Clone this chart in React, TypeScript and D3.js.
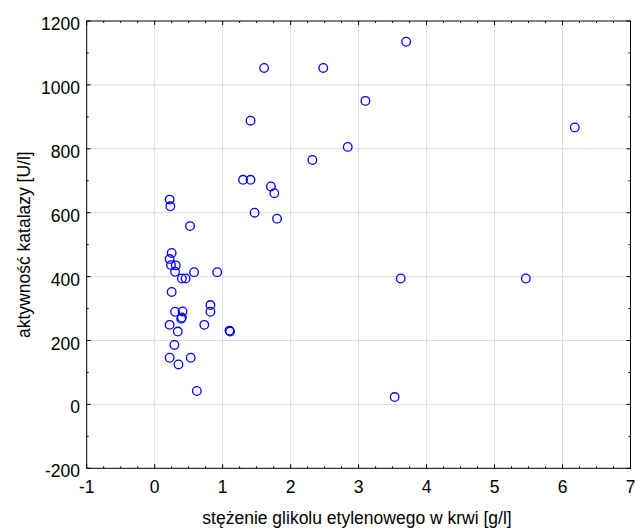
import React from "react";
import * as d3 from "d3";

const xValues = [0.22, 0.23, 0.52, 0.25, 0.22, 0.24, 0.31, 0.30, 0.58, 0.92, 0.40, 0.455, 0.25, 0.82, 0.82, 0.30, 0.41, 0.40, 0.39, 0.22, 0.73, 0.34, 1.10, 1.11, 0.29, 0.22, 0.53, 0.35, 0.62,
  3.70, 1.61, 2.48, 3.10, 1.41, 2.84, 2.32, 1.30, 1.41, 1.71, 1.76, 1.47, 1.80, 6.18, 5.46, 3.62, 3.53];
const yValues = [641, 620, 558, 474, 455, 436, 435, 415, 414, 414, 394, 394, 352, 311, 290, 290, 291, 272, 268, 249, 249, 228, 231, 228, 186, 146, 146, 125, 42,
  1135, 1053, 1053, 950, 888, 806, 765, 703, 703, 682, 661, 600, 581, 867, 394, 394, 23];
const xTicks = [-1, 0, 1, 2, 3, 4, 5, 6, 7];
const yTicks = [-200, 0, 200, 400, 600, 800, 1000, 1200];
const xTitle = "stężenie glikolu etylenowego w krwi [g/l]";
const yTitle = "aktywność katalazy [U/l]";

export default function App() {
  const left = 86.7, right = 630.5, top = 21, bottom = 468.3;
  const x = d3.scaleLinear().domain([-1, 7]).range([left, right]);
  const y = d3.scaleLinear().domain([-200, 1200]).range([bottom, top]);
  const xMinor = d3.range(-1, 7.001, 0.25);
  const yMinor = d3.range(-200, 1200.1, 100);
  const font = "'Liberation Sans', Arial, sans-serif";
  const fs = 17.5;
  return (
    <svg width={635} height={530} style={{ position: "absolute", left: 0, top: 0 }} fontFamily={font}>
      <rect x={0} y={0} width={635} height={530} fill="#fff" />
      {xTicks.slice(1, -1).map((t) => (
        <line key={"gx" + t} x1={x(t)} x2={x(t)} y1={top} y2={bottom} stroke="#dcdcdc" strokeWidth={1} />
      ))}
      {yTicks.slice(1, -1).map((t) => (
        <line key={"gy" + t} x1={left} x2={right} y1={y(t)} y2={y(t)} stroke="#dcdcdc" strokeWidth={1} />
      ))}
      <rect x={left} y={top} width={right - left} height={bottom - top} fill="none" stroke="#000" strokeWidth={1} />
      {xMinor.map((t, i) => {
        const major = Math.abs(t - Math.round(t)) < 1e-6;
        const len = major ? 4 : 2;
        return (
          <g key={"tx" + i}>
            <line x1={x(t)} x2={x(t)} y1={bottom} y2={bottom - len} stroke="#000" />
            <line x1={x(t)} x2={x(t)} y1={top} y2={top + len} stroke="#000" />
          </g>
        );
      })}
      {yMinor.map((t, i) => {
        const major = Math.abs(t % 200) < 1e-6;
        const len = major ? 4 : 2;
        return (
          <g key={"ty" + i}>
            <line x1={left} x2={left + len} y1={y(t)} y2={y(t)} stroke="#000" />
            <line x1={right} x2={right - len} y1={y(t)} y2={y(t)} stroke="#000" />
          </g>
        );
      })}
      {xTicks.map((t) => (
        <text key={"lx" + t} x={x(t)} y={492.5} textAnchor="middle" fontSize={fs} fill="#000">{t}</text>
      ))}
      {yTicks.map((t) => (
        <text key={"ly" + t} x={80} y={y(t) + 9} textAnchor="end" fontSize={fs} fill="#000">{t}</text>
      ))}
      <text x={357} y={524} textAnchor="middle" fontSize={fs} fill="#000">{xTitle}</text>
      <text transform={`translate(30,${(top + bottom) / 2}) rotate(-90)`} textAnchor="middle" fontSize={fs} fill="#000">{yTitle}</text>
      {xValues.map((v, i) => (
        <circle key={"p" + i} cx={x(v)} cy={y(yValues[i])} r={4.3} fill="none" stroke="#0000ff" strokeWidth={1.3} />
      ))}
    </svg>
  );
}
